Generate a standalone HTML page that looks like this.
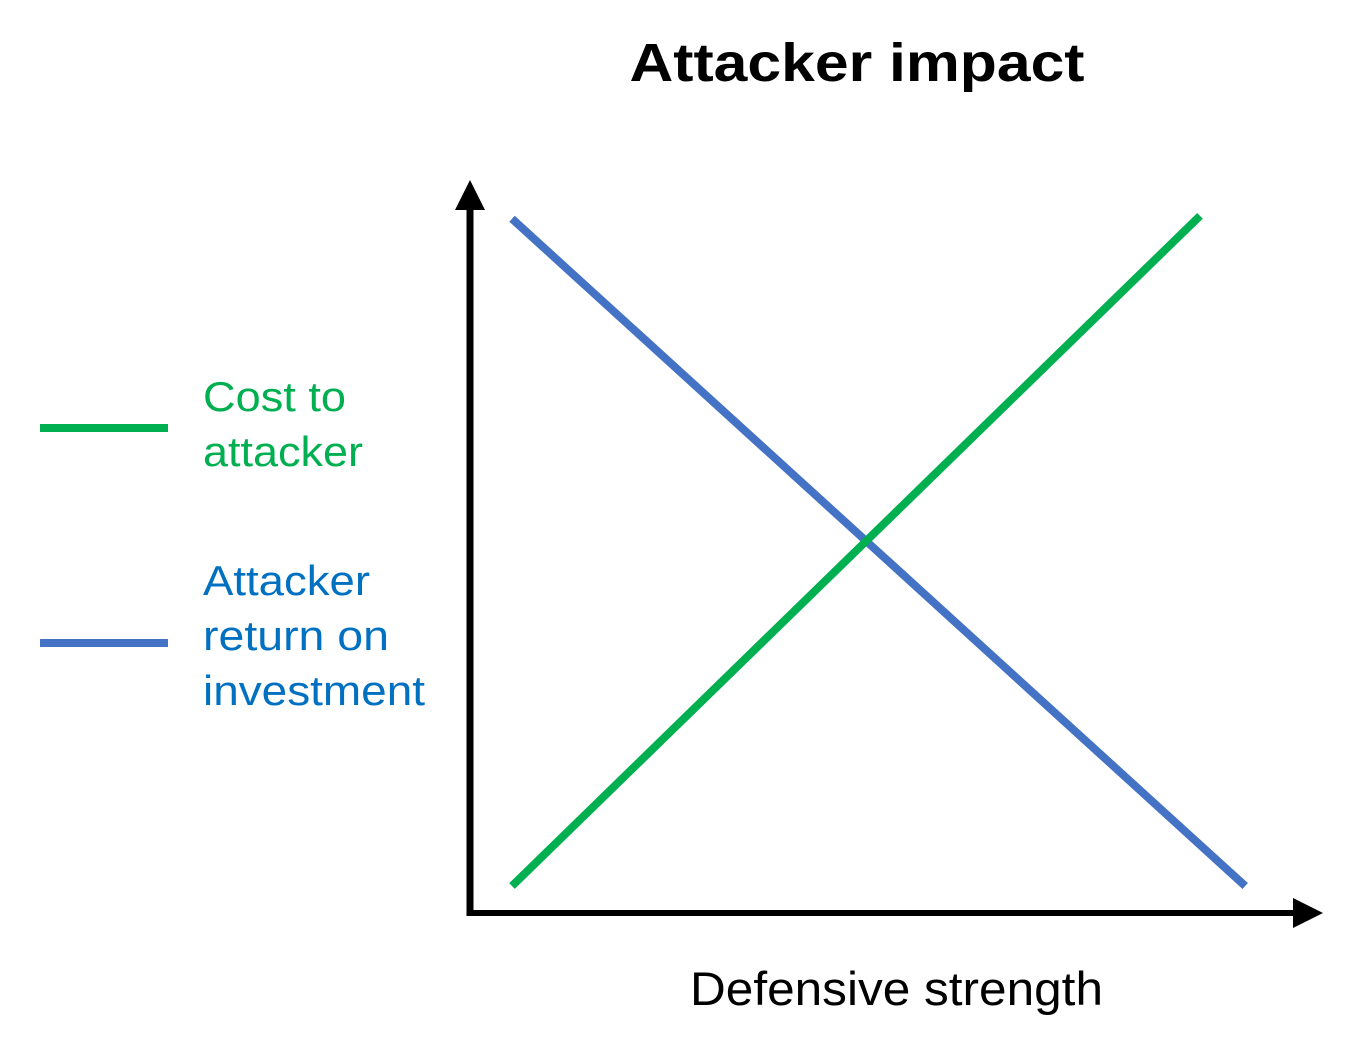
<!DOCTYPE html>
<html>
<head>
<meta charset="utf-8">
<style>
html,body{margin:0;padding:0;background:#fff;}
svg{display:block;font-family:"Liberation Sans",sans-serif;}
</style>
</head>
<body>
<svg id="chart" width="1353" height="1047" viewBox="0 0 1353 1047">
  <text x="857" y="81" text-anchor="middle" font-size="54" font-weight="bold" fill="#000" textLength="455" lengthAdjust="spacingAndGlyphs">Attacker impact</text>
  <g>
    <line x1="470" y1="916" x2="470" y2="205" stroke="#000" stroke-width="7"/>
    <polygon points="455,210 485,210 470,180" fill="#000"/>
  </g>
  <g>
    <line x1="467" y1="913" x2="1300" y2="913" stroke="#000" stroke-width="6"/>
    <polygon points="1293,898 1293,928 1323,913" fill="#000"/>
  </g>
  <text x="690" y="1005" font-size="47" fill="#000" textLength="413" lengthAdjust="spacingAndGlyphs">Defensive strength</text>
  <g id="series"></g>
  <g>
    <line x1="40" y1="428" x2="168" y2="428" stroke="#00b050" stroke-width="8"/>
    <text font-size="42" fill="#00b050">
      <tspan x="203" y="411" textLength="143" lengthAdjust="spacingAndGlyphs">Cost to</tspan>
      <tspan x="203" y="466" textLength="160" lengthAdjust="spacingAndGlyphs">attacker</tspan>
    </text>
    <line x1="40" y1="643" x2="168" y2="643" stroke="#4472c4" stroke-width="8"/>
    <text font-size="42" fill="#0070c0">
      <tspan x="203" y="595" textLength="167" lengthAdjust="spacingAndGlyphs">Attacker</tspan>
      <tspan x="203" y="650" textLength="186" lengthAdjust="spacingAndGlyphs">return on</tspan>
      <tspan x="203" y="705" textLength="222" lengthAdjust="spacingAndGlyphs">investment</tspan>
    </text>
  </g>
</svg>
<script>
const xValues = [5.25, 91.25];
const costValues = [3.7, 95.5];
const roiXValues = [5.25, 96.9];
const roiValues = [95.1, 3.7];

function xScale(v){ return 470 + v * 8; }
function yScale(v){ return 913 - v * 7.3; }

const g = document.getElementById('series');
function drawLine(xs, ys, color, name){
  const pts = xs.map((x,i) => xScale(x) + ',' + yScale(ys[i])).join(' ');
  const pl = document.createElementNS('http://www.w3.org/2000/svg','polyline');
  pl.setAttribute('points', pts);
  pl.setAttribute('fill', 'none');
  pl.setAttribute('stroke', color);
  pl.setAttribute('stroke-width', '8');
  
  
  g.appendChild(pl);
}
drawLine(roiXValues, roiValues, '#4472c4', 'roi-line');
drawLine(xValues, costValues, '#00b050', 'cost-line');
</script>
</body>
</html>
